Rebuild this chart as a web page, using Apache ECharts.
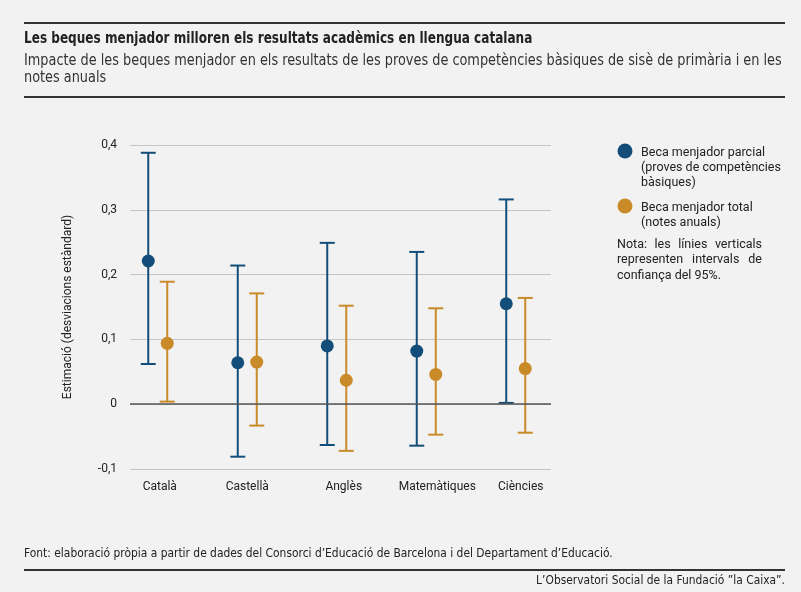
<!DOCTYPE html>
<html>
<head>
<meta charset="utf-8">
<script src="https://cdn.jsdelivr.net/npm/echarts@6/dist/echarts.min.js"></script>
<style>
html, body { margin: 0; padding: 0; background: #f2f2f2; }
#main { width: 801px; height: 592px; }
</style>
</head>
<body>
<div id="main"></div>
<script>
// categories and estimates (standard deviations)
var categories = ['Català', 'Castellà', 'Anglès', 'Matemàtiques', 'Ciències'];
var parcialEst = [0.221, 0.064, 0.090, 0.082, 0.155];
var parcialLow = [0.062, -0.081, -0.063, -0.064, 0.002];
var parcialHigh = [0.388, 0.214, 0.249, 0.235, 0.316];
var totalEst = [0.094, 0.065, 0.037, 0.046, 0.055];
var totalLow = [0.004, -0.033, -0.072, -0.047, -0.044];
var totalHigh = [0.189, 0.171, 0.152, 0.148, 0.164];

var blue = '#134e7a';
var gold = '#c98a28';
var condensed = "'DejaVu Sans Condensed', 'Liberation Sans', sans-serif";
var plain = "Roboto, 'Noto Sans', sans-serif";
// labels in the original sit a little right of the pair centre
var labelShift = [4, 0, 14, 22, 10];

function pairs(a) {
	var res = [];
	for (var i = 0; i < a.length; i++) res.push([i, a[i]]);
	return res;
}
function ranges(lo, hi) {
	var res = [];
	for (var i = 0; i < lo.length; i++) res.push([i, lo[i], hi[i]]);
	return res;
}
function errorBars(color, off) {
	return function(params, api) {
		var a = api.coord([api.value(0), api.value(1)]);
		var b = api.coord([api.value(0), api.value(2)]);
		var x = a[0] + off, hw = 7.5;
		var st = { stroke: color, lineWidth: 2 };
		return {
			type: 'group',
			children: [
				{ type: 'line', shape: { x1: x, y1: b[1], x2: x, y2: a[1] }, style: st },
				{ type: 'line', shape: { x1: x - hw, y1: b[1], x2: x + hw, y2: b[1] }, style: st },
				{ type: 'line', shape: { x1: x - hw, y1: a[1], x2: x + hw, y2: a[1] }, style: st }
			]
		};
	};
}

// justified note text (last line left)
var measureCtx = document.createElement('canvas').getContext('2d');
function justified(lines, left, right, top, lh, font) {
	measureCtx.font = font.size + 'px ' + font.family;
	var out = [];
	lines.forEach(function(line, li) {
		var words = line.split(' ');
		var y = top + li * lh;
		if (li === lines.length - 1 || words.length < 2) {
			out.push({ type: 'text', x: left, y: y, style: { text: line, font: font.size + 'px ' + font.family, fill: '#222' } });
			return;
		}
		var total = 0;
		words.forEach(function(w) { total += measureCtx.measureText(w).width; });
		var gap = (right - left - total) / (words.length - 1);
		var x = left;
		words.forEach(function(w) {
			out.push({ type: 'text', x: x, y: y, style: { text: w, font: font.size + 'px ' + font.family, fill: '#222' } });
			x += measureCtx.measureText(w).width + gap;
		});
	});
	return out;
}

var rich = {};
labelShift.forEach(function(s, i) {
	rich['c' + i] = { color: '#222', fontSize: 12, padding: [0, 0, 0, s] };
});

var chart = echarts.init(document.getElementById('main'));

var graphics = [
	{ type: 'rect', shape: { x: 24, y: 22, width: 761, height: 2 }, style: { fill: '#333' } },
	{ type: 'text', x: 24, y: 32, scaleX: 0.895, style: { text: 'Les beques menjador milloren els resultats acadèmics en llengua catalana', font: 'bold 15px ' + condensed, fill: '#222' } },
	{ type: 'text', x: 24, y: 52, scaleX: 0.93, style: { text: 'Impacte de les beques menjador en els resultats de les proves de competències bàsiques de sisè de primària i en les\nnotes anuals', font: '15.4px ' + condensed, fill: '#333', lineHeight: 17 } },
	{ type: 'rect', shape: { x: 24, y: 96, width: 761, height: 2 }, style: { fill: '#333' } },

	{ type: 'circle', shape: { cx: 625, cy: 151, r: 7.5 }, style: { fill: blue } },
	{ type: 'text', x: 641, y: 145, style: { text: 'Beca menjador parcial\n(proves de competències\nbàsiques)', font: '12.5px ' + plain, fill: '#222', lineHeight: 15 } },
	{ type: 'circle', shape: { cx: 625, cy: 206, r: 7.5 }, style: { fill: gold } },
	{ type: 'text', x: 641, y: 200, style: { text: 'Beca menjador total\n(notes anuals)', font: '12.5px ' + plain, fill: '#222', lineHeight: 15 } },

	{ type: 'text', x: 24, y: 547, scaleX: 0.915, style: { text: 'Font: elaboració pròpia a partir de dades del Consorci d\u2019Educació de Barcelona i del Departament d\u2019Educació.', font: '13px ' + condensed, fill: '#222' } },
	{ type: 'rect', shape: { x: 24, y: 569, width: 761, height: 2 }, style: { fill: '#333' } },
	{ type: 'text', x: 785, y: 574, scaleX: 0.915, style: { text: 'L\u2019Observatori Social de la Fundació \u201Dla Caixa\u201D.', align: 'right', font: '13px ' + condensed, fill: '#222' } }
].concat(justified(
	['Nota: les línies verticals', 'representen intervals de', 'confiança del 95%.'],
	617, 762, 238, 15.5, { size: 12.5, family: plain }
));

var option = {
	backgroundColor: '#f2f2f2',
	animation: false,
	textStyle: { fontFamily: plain },
	graphic: graphics,
	grid: [
		{ left: 130, right: 250, top: 145, bottom: 123 },
		{ left: 113, right: 240.5, top: 145, bottom: 123 }
	],
	xAxis: [
		{ gridIndex: 0, type: 'value', min: 0, max: 1, show: false },
		{
			gridIndex: 1, type: 'category', data: categories,
			axisLine: { show: false }, axisTick: { show: false },
			axisLabel: {
				color: '#222', fontSize: 12, margin: 12, interval: 0,
				formatter: function(v, i) { return '{c' + i + '|' + v + '}'; },
				rich: rich
			}
		}
	],
	yAxis: [
		{
			gridIndex: 0, type: 'value', min: -0.1, max: 0.4, interval: 0.1,
			name: 'Estimació (desviacions estàndard)', nameLocation: 'middle', nameGap: 56,
			nameTextStyle: { color: '#222', fontSize: 12 },
			axisLine: { show: false }, axisTick: { show: false },
			axisLabel: {
				color: '#222', fontSize: 12, margin: 13,
				formatter: function(v) { return String(Math.round(v * 10) / 10).replace('.', ','); }
			},
			splitLine: { lineStyle: { color: '#c4c4c4', width: 1 } }
		},
		{ gridIndex: 1, type: 'value', min: -0.1, max: 0.4, show: false }
	],
	series: [
		{
			type: 'line', xAxisIndex: 0, yAxisIndex: 0, data: [], silent: true,
			markLine: {
				silent: true, symbol: 'none', label: { show: false },
				lineStyle: { color: '#555', width: 1.5, type: 'solid' },
				data: [{ yAxis: 0 }]
			}
		},
		{
			name: 'Beca menjador parcial (proves de competències bàsiques)',
			type: 'custom', xAxisIndex: 1, yAxisIndex: 1,
			renderItem: errorBars(blue, -9.5), data: ranges(parcialLow, parcialHigh), z: 3
		},
		{
			name: 'Beca menjador total (notes anuals)',
			type: 'custom', xAxisIndex: 1, yAxisIndex: 1,
			renderItem: errorBars(gold, 9.5), data: ranges(totalLow, totalHigh), z: 3
		},
		{
			name: 'Beca menjador parcial (proves de competències bàsiques)',
			type: 'scatter', xAxisIndex: 1, yAxisIndex: 1,
			symbolSize: 13, symbolOffset: [-9.5, 0],
			itemStyle: { color: blue, opacity: 1 },
			data: pairs(parcialEst), z: 4
		},
		{
			name: 'Beca menjador total (notes anuals)',
			type: 'scatter', xAxisIndex: 1, yAxisIndex: 1,
			symbolSize: 13, symbolOffset: [9.5, 0],
			itemStyle: { color: gold, opacity: 1 },
			data: pairs(totalEst), z: 4
		}
	]
};
chart.setOption(option);

window.onresize = function() { chart.resize(); };
</script>
</body>
</html>
